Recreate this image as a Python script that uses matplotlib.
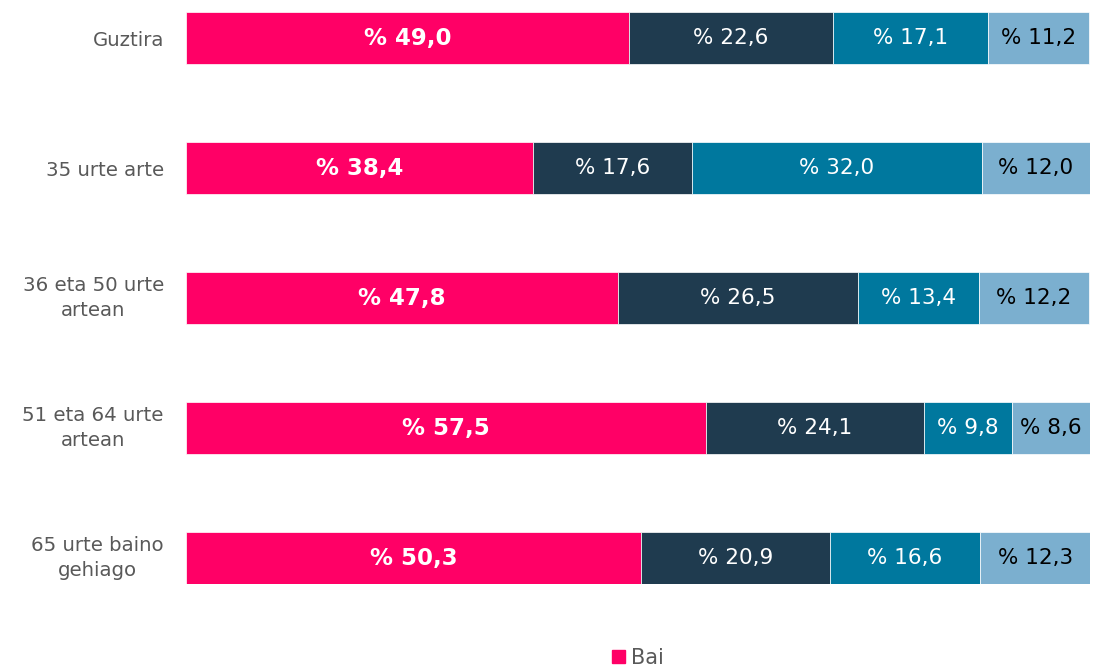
import matplotlib.pyplot as plt
from matplotlib.patches import Patch

categories = ['Guztira', '35 urte arte', '36 eta 50 urte\nartean',
              '51 eta 64 urte\nartean', '65 urte baino\ngehiago']
bai = [49.0, 38.4, 47.8, 57.5, 50.3]
seg2 = [22.6, 17.6, 26.5, 24.1, 20.9]
seg3 = [17.1, 32.0, 13.4, 9.8, 16.6]
seg4 = [11.2, 12.0, 12.2, 8.6, 12.3]

series = [bai, seg2, seg3, seg4]
colors = ['#FF0066', '#1F3B4F', '#00789E', '#7BAFCF']
text_colors = ['white', 'white', 'white', 'black']

fig = plt.figure(figsize=(10.97, 6.66), dpi=100)
ax = fig.add_axes([186/1097, 82/666, 904/1097, 572/666])

ypos = list(range(len(categories)))
left = [0.0] * len(categories)
for k, vals in enumerate(series):
    ax.barh(ypos, vals, left=left, height=0.4, color=colors[k],
            edgecolor='white', linewidth=0.5)
    for i, v in enumerate(vals):
        lab = '% ' + f'{v:.1f}'.replace('.', ',')
        if k == 0:
            ax.text(left[i] + v / 2, ypos[i], lab, ha='center', va='center',
                    color=text_colors[k], fontsize=16.5, fontweight='bold')
        else:
            ax.text(left[i] + v / 2, ypos[i], lab, ha='center', va='center',
                    color=text_colors[k], fontsize=15.5)
    left = [l + v for l, v in zip(left, vals)]

ax.set_xlim(0, 100)
ax.set_ylim(4.2, -0.2)
ax.set_yticks(ypos)
ax.set_yticklabels(categories, fontsize=14.2, color='#595959')
for t in ax.get_yticklabels():
    t.set_multialignment('center')
    t.set_linespacing(1.45)
    if '\n' in t.get_text():
        t.set_verticalalignment('center')
ax.tick_params(axis='y', length=0, pad=16)
ax.set_xticks([])
for s in ax.spines.values():
    s.set_visible(False)

fig.legend(handles=[Patch(color=colors[0], label='Bai')], loc='center',
           bbox_to_anchor=(638/1097, 0.012), frameon=False, fontsize=15,
           handlelength=0.6, handleheight=0.6, handletextpad=0.3,
           labelcolor='#595959')

fig.savefig('out.png', dpi=100)
